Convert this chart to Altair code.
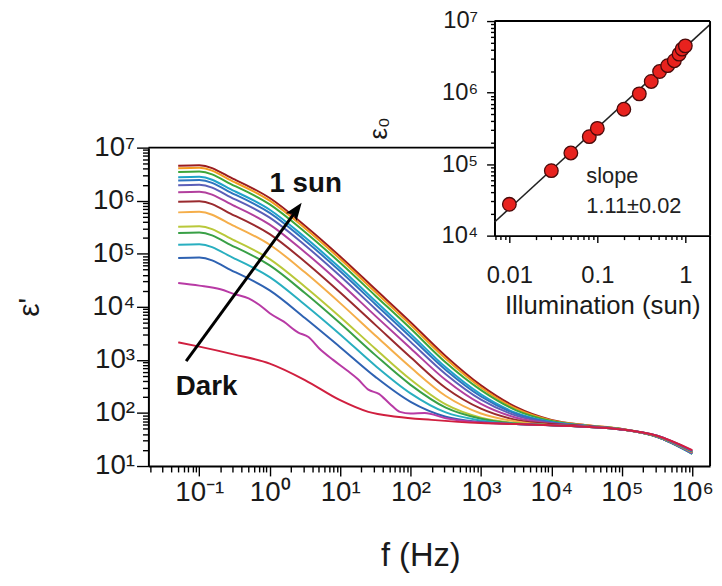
import altair as alt
import pandas as pd

FONT = "Liberation Sans"

# ---------------- main panel data: log10(f / Hz) grid and log10(eps') ----------------
LOGF = [-1.3, -1.0, -0.5, 0.0, 0.5, 1.0, 1.5, 2.0, 2.5, 3.0, 3.5, 4.0, 4.5, 5.0, 5.5, 6.0]

S100 = [6.66, 6.67, 6.40, 6.05, 5.53, 4.95, 4.33, 3.71, 3.07, 2.52, 2.11, 1.87, 1.77, 1.70, 1.55, 1.25]
S092 = [6.61, 6.62, 6.35, 6.00, 5.48, 4.90, 4.28, 3.66, 3.02, 2.48, 2.08, 1.86, 1.77, 1.70, 1.55, 1.24]
S085 = [6.54, 6.55, 6.28, 5.93, 5.41, 4.83, 4.21, 3.59, 2.95, 2.43, 2.05, 1.85, 1.76, 1.70, 1.55, 1.23]
S075 = [6.44, 6.45, 6.18, 5.83, 5.31, 4.73, 4.11, 3.49, 2.86, 2.35, 2.00, 1.83, 1.76, 1.69, 1.55, 1.23]
S063 = [6.38, 6.39, 6.12, 5.77, 5.25, 4.67, 4.05, 3.43, 2.81, 2.31, 1.98, 1.82, 1.75, 1.69, 1.55, 1.24]
S051 = [6.29, 6.30, 6.03, 5.68, 5.16, 4.58, 3.96, 3.34, 2.73, 2.25, 1.95, 1.81, 1.75, 1.69, 1.55, 1.24]
S041 = [6.16, 6.17, 5.90, 5.55, 5.03, 4.45, 3.83, 3.22, 2.62, 2.17, 1.91, 1.80, 1.75, 1.69, 1.56, 1.25]
S030 = [5.98, 5.99, 5.72, 5.37, 4.85, 4.27, 3.66, 3.05, 2.47, 2.08, 1.87, 1.79, 1.75, 1.69, 1.56, 1.26]
S020 = [5.78, 5.79, 5.52, 5.17, 4.65, 4.07, 3.46, 2.86, 2.32, 1.99, 1.84, 1.77, 1.74, 1.69, 1.56, 1.26]
S010 = [5.51, 5.52, 5.25, 4.90, 4.38, 3.81, 3.21, 2.63, 2.16, 1.91, 1.81, 1.77, 1.74, 1.69, 1.56, 1.27]
S008 = [5.39, 5.40, 5.13, 4.78, 4.26, 3.69, 3.09, 2.53, 2.10, 1.89, 1.80, 1.77, 1.74, 1.69, 1.56, 1.27]
S005 = [5.17, 5.18, 4.91, 4.56, 4.04, 3.48, 2.89, 2.37, 2.01, 1.86, 1.79, 1.77, 1.74, 1.69, 1.57, 1.28]
S003 = [4.92, 4.93, 4.66, 4.31, 3.79, 3.24, 2.68, 2.21, 1.93, 1.83, 1.79, 1.77, 1.74, 1.69, 1.57, 1.28]

LOGF_S001 = [-1.3, -1.0, -0.7, -0.5, -0.3, -0.15, 0.0, 0.2, 0.4, 0.55, 0.7, 0.9, 1.1, 1.25,
             1.4, 1.55, 1.7, 1.85, 2.0, 2.2, 2.5, 3.0, 3.5, 4.0, 4.5, 5.0, 5.5, 6.0]
S001 = [4.45, 4.40, 4.33, 4.24, 4.16, 4.04, 3.88, 3.72, 3.52, 3.43, 3.22, 3.00, 2.80, 2.64,
        2.44, 2.36, 2.18, 2.02, 1.99, 2.00, 1.90, 1.82, 1.79, 1.77, 1.74, 1.69, 1.57, 1.29]

LOGF_DARK = [-1.3, -1.0, -0.5, 0.0, 0.5, 1.0, 1.4, 1.8, 2.3, 3.0, 3.5, 4.0, 4.5, 5.0, 5.5, 6.0]
DARK = [3.33, 3.25, 3.10, 2.93, 2.62, 2.24, 2.02, 1.93, 1.87, 1.81, 1.79, 1.77, 1.74, 1.69, 1.57, 1.30]

CURVES = [
    ("1.00", LOGF, S100, "#9A1C1F"),
    ("0.92", LOGF, S092, "#F39A1E"),
    ("0.85", LOGF, S085, "#3DA639"),
    ("0.75", LOGF, S075, "#1FA3C9"),
    ("0.63", LOGF, S063, "#2F74C0"),
    ("0.51", LOGF, S051, "#5B5FB8"),
    ("0.41", LOGF, S041, "#B2409E"),
    ("0.30", LOGF, S030, "#9A2A2E"),
    ("0.20", LOGF, S020, "#F5AE4A"),
    ("0.10", LOGF, S010, "#B9C83A"),
    ("0.08", LOGF, S008, "#39A046"),
    ("0.05", LOGF, S005, "#29AFC0"),
    ("0.03", LOGF, S003, "#2E62B2"),
    ("0.01", LOGF_S001, S001, "#B83AA5"),
    ("dark", LOGF_DARK, DARK, "#D01F3F"),
]

# ---------------- inset data ----------------
ILLUM = [0.01, 0.03, 0.05, 0.081, 0.10, 0.20, 0.30, 0.41, 0.51, 0.63, 0.75, 0.85, 0.92, 1.00]
EPS0 = [2.74e4, 8.1e4, 1.43e5, 2.42e5, 3.16e5, 5.85e5, 9.6e5, 1.43e6, 1.97e6, 2.38e6,
        2.79e6, 3.45e6, 4.05e6, 4.5e6]
FIT_X = [0.0068, 1.90]
FIT_Y = [1.55e4, 8.9e6]

# ---------------- build tables ----------------
rows = []
for name, lf, le, _ in CURVES:
    for a, b in zip(lf, le):
        rows.append({"curve": name, "f": 10 ** a, "eps": 10 ** b})
curves_df = pd.DataFrame(rows)
names = [c[0] for c in CURVES]
colors = [c[3] for c in CURVES]

W, H = 568, 450          # whole drawing area (main frame + inset above it)
MAIN_TOP = 128           # pixel row of 10^7 in the main frame
INSET_LEFT, INSET_H = 350, 217

XMIN, XMAX = 10 ** -1.723, 10 ** 6.253
xsc = alt.Scale(type="log", domain=[XMIN, XMAX], nice=False, range=[0, W])
ysc = alt.Scale(type="log", domain=[10.0, 1e7], nice=False, range=[H, MAIN_TOP])


def label_expr(vals, labels):
    return " : ".join(f"datum.value == {v!r} ? '{t}'" for v, t in zip(vals, labels)) + " : ''"


y_major = [1e1, 1e2, 1e3, 1e4, 1e5, 1e6, 1e7]
y_lab = ["10¹", "10²", "10³", "10⁴", "10⁵", "10⁶", "10⁷"]
y_minor = [k * 10.0 ** n for n in range(1, 7) for k in range(2, 10)]
x_major = [0.1, 1.0, 10.0, 100.0, 1e3, 1e4, 1e5, 1e6]
x_lab = ["10⁻¹", "10⁰", "10¹", "10²", "10³", "10⁴", "10⁵", "10⁶"]
x_minor = [k * 10.0 ** n for n in range(-2, 6) for k in range(2, 10)]

x_axis = alt.Axis(values=x_major, labelExpr=label_expr(x_major, x_lab), grid=False,
                  orient="bottom", tickSize=10, labelFontSize=28, labelPadding=3,
                  labelFlush=False, labelOverlap=False, domain=True, title="f (Hz)",
                  titleFontSize=33, titleFontWeight="normal", titleX=275, titleY=91,
                  titleBaseline="middle", titleAlign="center")
y_axis = alt.Axis(values=y_major, labelExpr=label_expr(y_major, y_lab), grid=False,
                  orient="left", tickSize=12, labelFontSize=28, labelPadding=2,
                  labelOverlap=False, labelFlush=False, domain=True, title="ε'",
                  titleFontSize=30, titleFontWeight="normal", titleAngle=270, titleX=-120,
                  titleY=289, titleBaseline="middle", titleAlign="center")
x_axis_minor = alt.Axis(values=x_minor, labels=False, grid=False, tickSize=6, domain=False,
                        title=None, orient="bottom")
y_axis_minor = alt.Axis(values=y_minor, labels=False, grid=False, tickSize=6, domain=False,
                        title=None, orient="left")

lines = alt.Chart(curves_df).mark_line(strokeWidth=2, interpolate="monotone", clip=True).encode(
    x=alt.X("f:Q", scale=xsc, axis=x_axis),
    y=alt.Y("eps:Q", scale=ysc, axis=y_axis),
    color=alt.Color("curve:N", scale=alt.Scale(domain=names, range=colors), legend=None),
)

top_line = alt.Chart(pd.DataFrame({"f": [XMIN], "f2": [1556.0], "eps": [1e7]})).mark_rule(
    color="black", strokeWidth=2).encode(
    x=alt.X("f:Q", scale=xsc, axis=None), x2="f2:Q", y=alt.Y("eps:Q", scale=ysc, axis=None))
right_line = alt.Chart(pd.DataFrame({"f": [XMAX], "eps": [10.0], "eps2": [2.2e5]})).mark_rule(
    color="black", strokeWidth=2).encode(
    x=alt.X("f:Q", scale=xsc, axis=None), y=alt.Y("eps:Q", scale=ysc, axis=None), y2="eps2:Q")

ARROW_F = [0.065, 2.45]
ARROW_E = [944.0, 6.9e5]
arrow = alt.Chart(pd.DataFrame({"f": ARROW_F, "eps": ARROW_E})).mark_line(
    color="black", strokeWidth=3).encode(
    x=alt.X("f:Q", scale=xsc, axis=None), y=alt.Y("eps:Q", scale=ysc, axis=None))
head = alt.Chart(pd.DataFrame({"f": [2.84], "eps": [9.16e5]})).mark_point(
    shape="M0,0L0.45,1.2L0,0.95L-0.45,1.2Z", size=900, filled=True, color="black",
    opacity=1, angle=36).encode(
    x=alt.X("f:Q", scale=xsc, axis=None), y=alt.Y("eps:Q", scale=ysc, axis=None))

labels_df = pd.DataFrame({"f": [3.24, 0.127], "eps": [2.04e6, 309.0], "t": ["1 sun", "Dark"]})
labels = alt.Chart(labels_df).mark_text(fontSize=28, fontWeight="bold", color="#111",
                                        align="center", baseline="middle").encode(
    x=alt.X("f:Q", scale=xsc, axis=x_axis_minor), y=alt.Y("eps:Q", scale=ysc, axis=y_axis_minor),
    text="t:N")

main = alt.layer(lines, top_line, right_line, arrow, head, labels).resolve_axis(
    x="independent", y="independent")

# ---------------- inset (same drawing area, its own scales mapped to a sub-range) ----------------
IXMIN, IXMAX = 10 ** -2.169, 10 ** 0.281
ixsc = alt.Scale(type="log", domain=[IXMIN, IXMAX], nice=False, range=[INSET_LEFT, W])
iysc = alt.Scale(type="log", domain=[1e4, 1e7], nice=False, range=[INSET_H, 0])

iy_major = [1e4, 1e5, 1e6, 1e7]
iy_lab = ["10⁴", "10⁵", "10⁶", "10⁷"]
iy_minor = [k * 10.0 ** n for n in range(4, 7) for k in range(2, 10)]
ix_major = [0.01, 0.1, 1.0]
ix_lab = ["0.01", "0.1", "1"]
ix_minor = [0.007, 0.008, 0.009] + [k * 10.0 ** n for n in (-2, -1) for k in range(2, 10)]

X_OFF = INSET_H - H      # move the inset x axis up to the inset bottom
Y_OFF = -INSET_LEFT      # move the inset y axis right to the inset left edge
ix_axis = alt.Axis(values=ix_major, labelExpr=label_expr(ix_major, ix_lab), grid=False,
                   orient="bottom", offset=X_OFF, tickSize=7, labelFontSize=24,
                   labelPadding=21, labelFlush=False, labelOverlap=False,
                   title="Illumination (sun)", titleFontSize=26, titleFontWeight="normal",
                   titlePadding=6)
iy_axis = alt.Axis(values=iy_major, labelExpr=label_expr(iy_major, iy_lab), grid=False,
                   orient="left", offset=Y_OFF, tickSize=8, labelFontSize=24, labelPadding=9,
                   labelFlush=False, labelOverlap=False, title="ε₀", titleFontSize=26,
                   titleFontWeight="normal", titleAngle=270, titleX=-117, titleY=108,
                   titleBaseline="middle", titleAlign="center")
ix_axis_minor = alt.Axis(values=ix_minor, labels=False, grid=False, tickSize=4, domain=False,
                         title=None, orient="bottom", offset=X_OFF)
iy_axis_minor = alt.Axis(values=iy_minor, labels=False, grid=False, tickSize=4, domain=False,
                         title=None, orient="left", offset=Y_OFF)

ipts = pd.DataFrame({"x": ILLUM, "y": EPS0})
fit = alt.Chart(pd.DataFrame({"x": FIT_X, "y": FIT_Y})).mark_line(
    color="#222", strokeWidth=1.6).encode(
    x=alt.X("x:Q", scale=ixsc, axis=ix_axis), y=alt.Y("y:Q", scale=iysc, axis=iy_axis))
pts = alt.Chart(ipts).mark_point(filled=True, size=190, fill="#E8221E", stroke="#4a0a0a",
                                 strokeWidth=1.3, opacity=1).encode(
    x=alt.X("x:Q", scale=ixsc, axis=ix_axis_minor), y=alt.Y("y:Q", scale=iysc, axis=iy_axis_minor))
itop = alt.Chart(pd.DataFrame({"x": [IXMIN], "x2": [IXMAX], "y": [1e7]})).mark_rule(
    color="black", strokeWidth=2).encode(
    x=alt.X("x:Q", scale=ixsc, axis=None), x2="x2:Q", y=alt.Y("y:Q", scale=iysc, axis=None))
iright = alt.Chart(pd.DataFrame({"x": [IXMAX], "y": [1e4], "y2": [1e7]})).mark_rule(
    color="black", strokeWidth=2).encode(
    x=alt.X("x:Q", scale=ixsc, axis=None), y=alt.Y("y:Q", scale=iysc, axis=None), y2="y2:Q")
itext = alt.Chart(pd.DataFrame({"x": [0.075, 0.075], "y": [6.76e4, 2.6e4],
                                "t": ["slope", "1.11±0.02"]})).mark_text(
    fontSize=22, color="#222", align="left", baseline="middle").encode(
    x=alt.X("x:Q", scale=ixsc, axis=None), y=alt.Y("y:Q", scale=iysc, axis=None), text="t:N")

inset = alt.layer(fit, pts, itop, iright, itext).resolve_axis(x="independent", y="independent")

chart = alt.layer(main, inset).resolve_scale(x="independent", y="independent").resolve_axis(
    x="independent", y="independent").properties(
    width=W, height=H,
    autosize=alt.AutoSizeParams(type="none"),
    padding={"left": 142, "top": 10, "right": 4, "bottom": 108}
).configure(font=FONT).configure_view(stroke="transparent", strokeWidth=0).configure_axis(
    domainColor="black", domainWidth=2, tickColor="black", tickWidth=1.4,
    labelFont=FONT, titleFont=FONT, labelColor="#1a1a1a", titleColor="#1a1a1a"
)

chart.save("out.html", embed_options={"renderer": "svg", "actions": False})
